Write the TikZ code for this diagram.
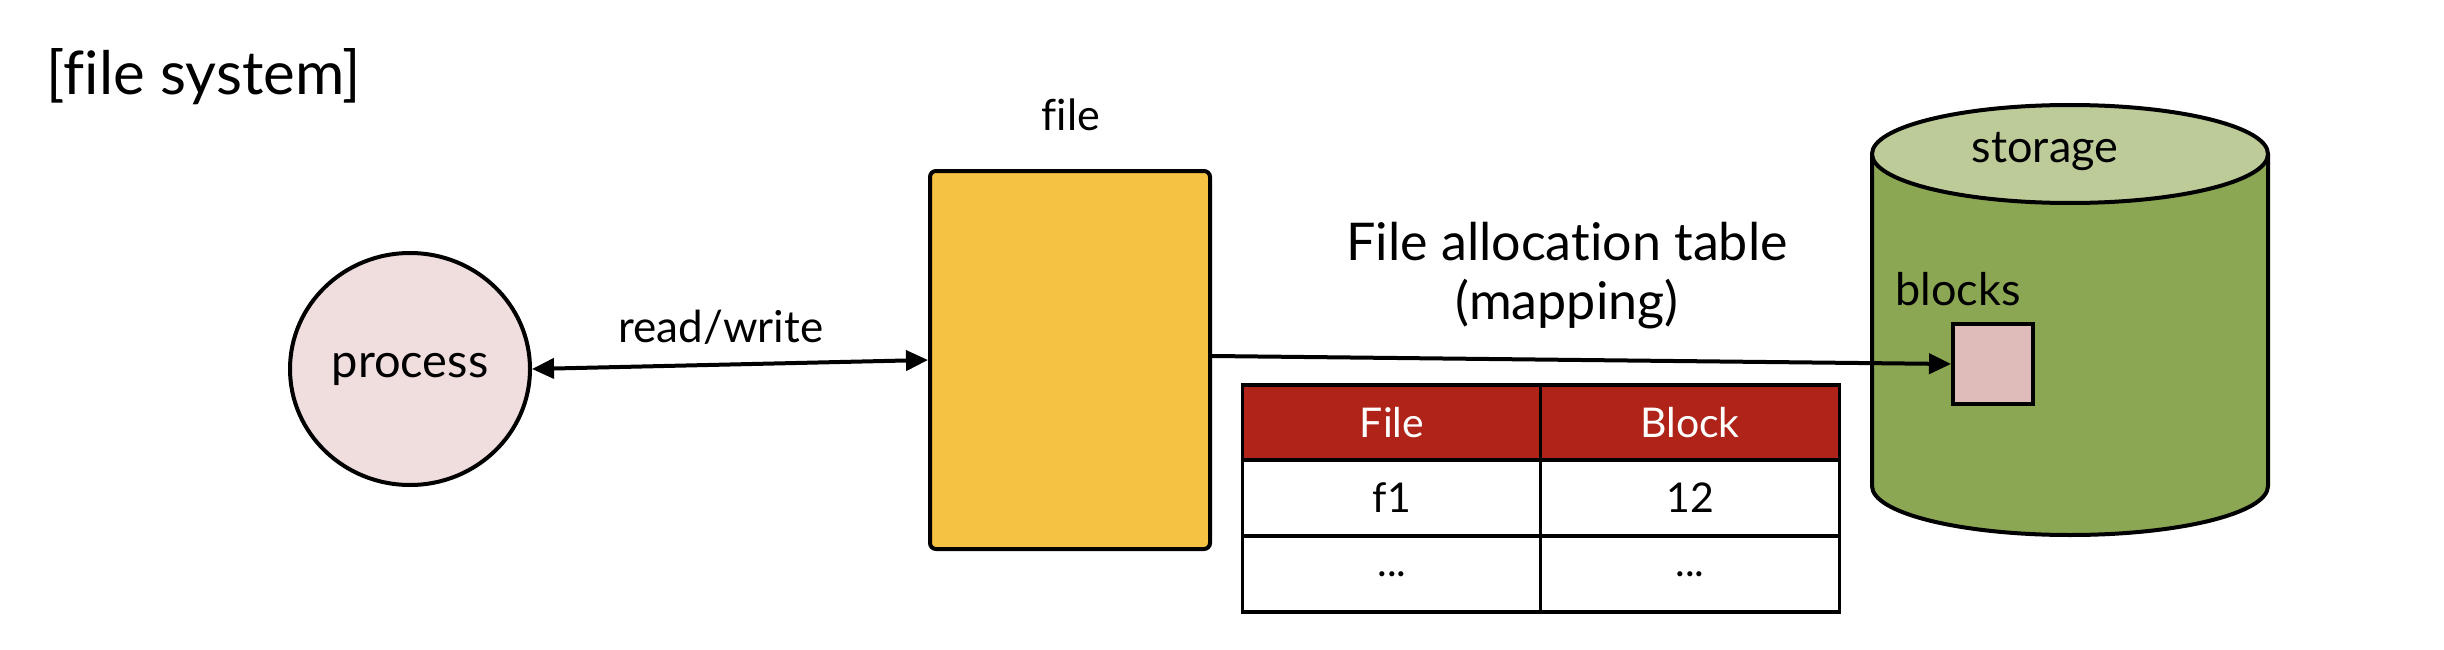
\documentclass[tikz,border=0pt]{standalone}
\usepackage{fontspec}
\setmainfont[Ligatures=NoCommon]{Lato}
\usetikzlibrary{arrows.meta,shapes.geometric}
\definecolor{procfill}{HTML}{F0DDDD}
\definecolor{filefill}{HTML}{F5C243}
\definecolor{hdrfill}{HTML}{AF2318}
\definecolor{stortop}{HTML}{BDCB99}
\definecolor{storbody}{HTML}{8CA753}
\definecolor{blkfill}{HTML}{DFBBBA}
\tikzset{
  lbl/.style={inner sep=0pt, font=\fontsize{44}{52}\selectfont},
  biglbl/.style={inner sep=0pt, font=\fontsize{52}{62}\selectfont},
  proc/.style={ellipse, draw, line width=4pt, fill=procfill, minimum width=240pt, minimum height=232pt, inner sep=0pt, font=\fontsize{47}{56}\selectfont},
  filebox/.style={draw, line width=4pt, fill=filefill, rounded corners=6pt, minimum width=280pt, minimum height=378pt, inner sep=0pt},
  hcell/.style={draw, line width=3.5pt, fill=hdrfill, text=white, minimum width=299pt, minimum height=76pt, inner sep=0pt, font=\fontsize{41}{49}\selectfont},
  cell/.style={draw, line width=3.5pt, fill=white, minimum width=299pt, minimum height=76pt, inner sep=0pt, font=\fontsize{41}{49}\selectfont},
  blkbox/.style={draw, line width=4pt, fill=blkfill, minimum width=80pt, minimum height=80pt, inner sep=0pt},
  arr/.style={line width=4pt, -{Triangle[length=22pt,width=20pt]}},
  darr/.style={line width=4pt, {Triangle[length=22pt,width=20pt]}-{Triangle[length=22pt,width=20pt]}}
}
\begin{document}
\begin{tikzpicture}[x=1pt,y=-1pt]
\useasboundingbox (0,0) rectangle (2444,650);
% title
\node[inner sep=0pt, font=\fontsize{60}{70}\selectfont] (title) at (204,77) {[file system]};
% process
\node[proc] (proc) at (410,369) {process};
% file
\node[filebox] (file) at (1070,360) {};
\node[lbl, font=\fontsize{43}{50}\selectfont] (filelbl) at (1071,115) {file};
% read/write
\draw[darr] (proc.east) -- (file.west);
\node[lbl] (rw) at (721,327) {read/write};
% FAT label
\node[biglbl] (fat1) at (1567,242) {File allocation table};
\node[biglbl] (fat2) at (1567,304) {(mapping)};
% table
\node[hcell] (h1) at (1392,423) {File};
\node[hcell] (h2) at (1690,423) {Block};
\node[cell] (c11) at (1392,498) {f1};
\node[cell] (c12) at (1690,498) {12};
\node[cell] (c21) at (1392,574) {...};
\node[cell] (c22) at (1690,574) {...};
% storage cylinder
\fill[storbody] (1872,154) -- (1872,486) arc[start angle=180, end angle=360, x radius=198pt, y radius=49pt] -- (2268,154) -- cycle;
\draw[line width=4pt] (1872,154) -- (1872,486) arc[start angle=180, end angle=360, x radius=198pt, y radius=49pt] -- (2268,154);
\draw[line width=4pt, fill=stortop] (2070,154) ellipse[x radius=198pt, y radius=49pt];
\node[lbl, font=\fontsize{45}{54}\selectfont] (stor) at (2045,152) {storage};
\node[lbl, font=\fontsize{45}{54}\selectfont] (blks) at (1958,289) {blocks};
\node[blkbox] (blk) at (1993,364) {};
% mapping arrow
\draw[arr] ([yshift=4pt]file.east) -- (blk.west);
\end{tikzpicture}
\end{document}
